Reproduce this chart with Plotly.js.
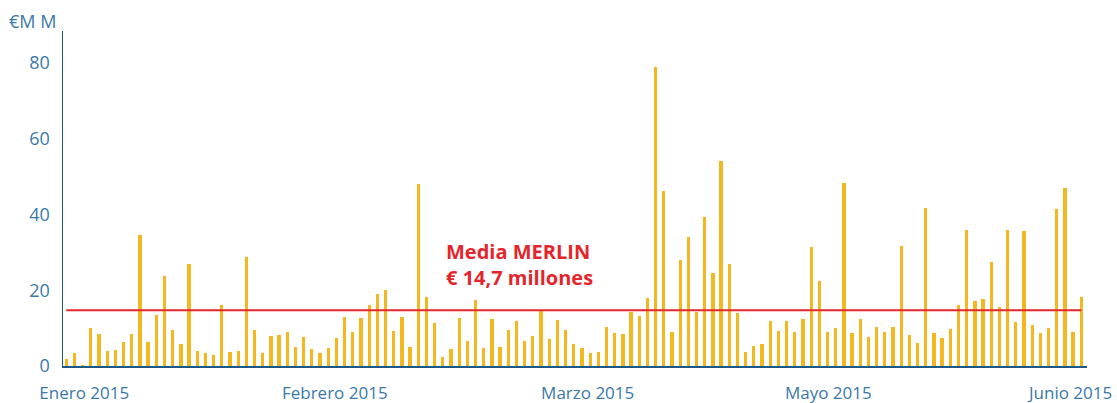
<!DOCTYPE html>
<html>
<head>
<meta charset="utf-8">
<script src="https://cdn.plot.ly/plotly-3.0.1.min.js"></script>
<style>html,body{margin:0;padding:0;background:#fff;}#chart{width:1117px;height:403px;}</style>
</head>
<body>
<div id="chart"></div>
<script>
// Daily trading volume (€ millions), one bar per session
const volumes = [
  1.8, 3.3, 0.3, 10.1, 8.4, 3.9, 4.1, 6.3, 8.4, 34.5,
  6.3, 13.5, 23.7, 9.4, 5.8, 26.8, 3.9, 3.4, 2.9, 16.1,
  3.6, 4.0, 28.8, 9.6, 3.4, 8.0, 8.3, 8.9, 4.9, 7.6,
  4.4, 3.3, 4.7, 7.4, 12.9, 9.0, 12.6, 16.0, 19.0, 20.1,
  9.2, 13.0, 5.0, 47.9, 18.3, 11.3, 2.4, 4.4, 12.6, 6.6,
  17.5, 4.8, 12.5, 5.1, 9.5, 11.9, 6.5, 8.0, 14.4, 7.0,
  12.1, 9.4, 5.9, 4.7, 3.5, 3.7, 10.2, 8.6, 8.4, 14.3,
  13.3, 18.0, 78.9, 46.2, 8.9, 28.0, 34.0, 14.3, 39.2, 24.6,
  54.1, 26.8, 13.9, 3.6, 5.2, 5.7, 12.0, 9.3, 12.0, 8.9,
  12.3, 31.3, 22.3, 9.1, 9.9, 48.3, 8.7, 12.4, 7.6, 10.2,
  9.1, 10.2, 31.6, 8.2, 6.2, 41.8, 8.8, 7.3, 9.7, 16.1,
  35.8, 17.1, 17.8, 27.4, 15.6, 35.9, 11.5, 35.5, 10.8, 8.7,
  9.9, 41.3, 47.1, 9.0, 18.1
];
const sessions = volumes.map((v, i) => i);
const mediaMerlin = 14.7;
const monthLabels = ["Enero 2015", "Febrero 2015", "Marzo 2015", "Mayo 2015", "Junio 2015"];
const monthPositions = [2.2, 32.8, 63.7, 93.1, 122.7];
const yTicks = [0, 20, 40, 60, 80];

const blue = "#3a79a7";
const axisBlue = "#1c5886";
const red = "#e4262c";
const font = "Open Sans, sans-serif";

const traces = [
  {
    type: "bar",
    x: sessions,
    y: volumes,
    width: 0.4,
    marker: { color: "#f4b71f", line: { width: 0 } },
    hoverinfo: "y"
  },
  {
    type: "scatter",
    mode: "lines",
    x: [sessions[0], sessions[sessions.length - 1]],
    y: [mediaMerlin, mediaMerlin],
    line: { color: red, width: 2 },
    hoverinfo: "skip"
  }
];

const layout = {
  width: 1117,
  height: 403,
  margin: { l: 63, r: 30, t: 31, b: 37 },
  paper_bgcolor: "#ffffff",
  plot_bgcolor: "#ffffff",
  showlegend: false,
  bargap: 0,
  xaxis: {
    range: [-0.4, 124.7],
    showgrid: false,
    zeroline: false,
    showline: true,
    linecolor: axisBlue,
    linewidth: 1.5,
    tickvals: monthPositions,
    ticktext: monthLabels,
    ticks: "",
    ticklabelstandoff: 11,
    tickfont: { family: font, size: 17, color: blue }
  },
  yaxis: {
    range: [0, 88.4],
    showgrid: false,
    zeroline: false,
    showline: true,
    linecolor: axisBlue,
    linewidth: 1.5,
    tickvals: yTicks,
    ticks: "",
    ticklabelstandoff: 8,
    tickfont: { family: font, size: 18, color: blue }
  },
  annotations: [
    {
      xref: "paper", yref: "paper",
      x: -0.055, y: 1.03,
      xanchor: "left", yanchor: "middle",
      text: "€M M",
      showarrow: false,
      font: { family: font, size: 18, color: blue }
    },
    {
      xref: "x", yref: "y",
      x: 46.1, y: 26.8,
      xanchor: "left", yanchor: "middle",
      align: "left",
      text: "<b>Media MERLIN<br>€ 14,7 millones</b>",
      showarrow: false,
      font: { family: font, size: 20, color: red }
    }
  ]
};

Plotly.newPlot("chart", traces, layout, { displayModeBar: false, staticPlot: true });
</script>
</body>
</html>
